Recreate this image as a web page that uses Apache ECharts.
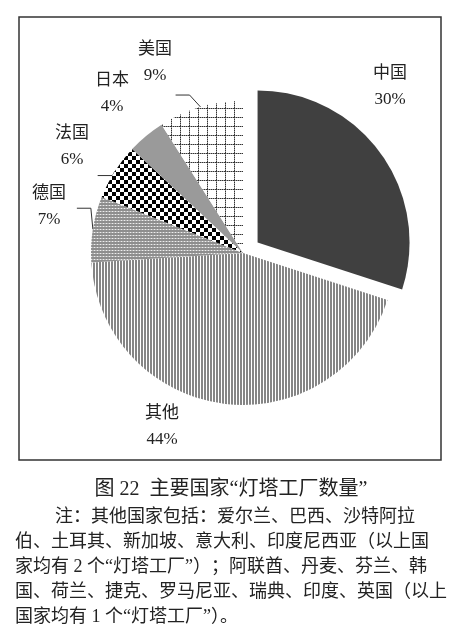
<!DOCTYPE html>
<html><head><meta charset="utf-8">
<script src="https://cdn.jsdelivr.net/npm/echarts@6/dist/echarts.min.js"></script>
<style>html,body{margin:0;padding:0;background:#fff}#c{width:461px;height:637px}</style>
</head><body><div id="c"></div>
<script>
// ---- data ----
const categories = ['中国', '其他', '德国', '法国', '日本', '美国'];
const shares = [30, 44, 7, 6, 4, 9];
const titleText = '图 22  主要国家“灯塔工厂数量”';
const noteLines = [
  '注：其他国家包括：爱尔兰、巴西、沙特阿拉',
  '伯、土耳其、新加坡、意大利、印度尼西亚（以上国',
  '家均有 2 个“灯塔工厂”）；阿联酋、丹麦、芬兰、韩',
  '国、荷兰、捷克、罗马尼亚、瑞典、印度、英国（以上',
  '国家均有 1 个“灯塔工厂”）。'
];

// ---- styles / layout ----
const FONT = '"Liberation Serif","Noto Sans CJK SC",serif';
const CENTER = [243, 253];
const RADIUS = 152;
const EXPLODE = 18;          // offset of the highlighted slice
const explodedIndex = 0;

function pattern(w, h, draw) {
  const c = document.createElement('canvas');
  c.width = w; c.height = h;
  const g = c.getContext('2d');
  draw(g);
  return { image: c, repeat: 'repeat' };
}
const fills = [
  '#404040',
  pattern(3, 1, g => { g.fillStyle = '#fff'; g.fillRect(0, 0, 3, 1); g.fillStyle = '#858585'; g.fillRect(0, 0, 2, 1); }),
  pattern(3, 3, g => { g.fillStyle = '#8e8e8e'; g.fillRect(0, 0, 3, 3); g.fillStyle = '#b4b4b4'; g.fillRect(0, 1, 3, 1); g.fillStyle = '#eeeeee'; g.fillRect(1, 1, 1, 1); }),
  pattern(8, 8, g => { g.fillStyle = '#fff'; g.fillRect(0, 0, 8, 8); g.fillStyle = '#000'; g.fillRect(0, 0, 4, 4); g.fillRect(4, 4, 4, 4); }),
  '#9a9a9a',
  pattern(9, 9, g => {
    g.fillStyle = '#fff'; g.fillRect(0, 0, 9, 9);
    for (let k = 0; k < 9; k++) {
      g.fillStyle = k % 2 ? '#9a9a9a' : '#333';
      g.fillRect(k, 0, 1, 1); g.fillRect(0, k, 1, 1);
    }
  })
];
const CLEAR = 'rgba(0,0,0,0)';
// label block centres and label-line bends (offsets from the slice edge point)
const labelPos = [[390, 87], [162, 427], [49, 207], [72, 147], [112, 94], [155, 63]];
const lineBends = [null, null, [[-2, -21], [-16, -21]], [[-2, 4], [-17, 4]], null, [[-11, -12], [-25, -12]]];

const total = shares.reduce((a, b) => a + b, 0);
function midAngle(i) {
  let cum = 0;
  for (let k = 0; k < i; k++) cum += shares[k];
  return (90 - 360 * (cum + shares[i] / 2) / total) * Math.PI / 180;
}
function edgePoint(i) {
  const a = midAngle(i);
  return [CENTER[0] + RADIUS * Math.cos(a), CENTER[1] - RADIUS * Math.sin(a)];
}
const expAng = midAngle(explodedIndex);
const CENTER2 = [CENTER[0] + EXPLODE * Math.cos(expAng), CENTER[1] - EXPLODE * Math.sin(expAng)];

const dataMain = categories.map((name, i) => ({
  name,
  value: shares[i],
  itemStyle: { color: i === explodedIndex ? CLEAR : fills[i] },
  labelLine: { show: !!lineBends[i] }
}));
const dataExploded = categories.map((name, i) => ({
  name,
  value: shares[i],
  itemStyle: { color: i === explodedIndex ? fills[i] : CLEAR }
}));

const common = {
  type: 'pie',
  radius: RADIUS,
  startAngle: 90,
  clockwise: true,
  avoidLabelOverlap: false,
  emphasis: { disabled: true },
  itemStyle: { borderWidth: 0 }
};

const chart = echarts.init(document.getElementById('c'), null, { renderer: 'canvas' });
chart.setOption({
  animation: false,
  backgroundColor: '#fff',
  graphic: [
    { type: 'rect', z: 0, shape: { x: 19, y: 17, width: 422, height: 443 },
      style: { fill: 'none', stroke: '#333', lineWidth: 1.5 } },
    { type: 'text', x: 231, y: 490,
      style: { text: titleText, fontSize: 20, fontFamily: FONT, fill: '#222', align: 'center', verticalAlign: 'middle' } }
  ].concat(noteLines.map((t, i) => ({
    type: 'text', x: i === 0 ? 55 : 15, y: 517 + i * 25,
    style: { text: t, fontSize: 18, fontFamily: FONT, fill: '#222', align: 'left', verticalAlign: 'middle' }
  }))),
  series: [
    Object.assign({}, common, {
      name: 'main',
      center: CENTER,
      label: {
        show: true,
        position: 'outside',
        formatter: p => p.name + '\n' + p.value + '%',
        fontSize: 17,
        lineHeight: 26,
        fontFamily: FONT,
        color: '#222'
      },
      labelLine: { show: true, length: 10, length2: 10, smooth: false, lineStyle: { color: '#333', width: 1 } },
      labelLayout: function (params) {
        const i = params.dataIndex;
        const res = { x: labelPos[i][0], y: labelPos[i][1], align: 'center', verticalAlign: 'middle' };
        if (lineBends[i]) {
          const p0 = (params.labelLinePoints && params.labelLinePoints[0]) || edgePoint(i);
          res.labelLinePoints = [p0].concat(lineBends[i].map(d => [p0[0] + d[0], p0[1] + d[1]]));
        }
        return res;
      },
      data: dataMain
    }),
    Object.assign({}, common, {
      name: 'exploded',
      center: CENTER2,
      silent: true,
      label: { show: false },
      labelLine: { show: false },
      data: dataExploded
    })
  ]
});
</script></body></html>
